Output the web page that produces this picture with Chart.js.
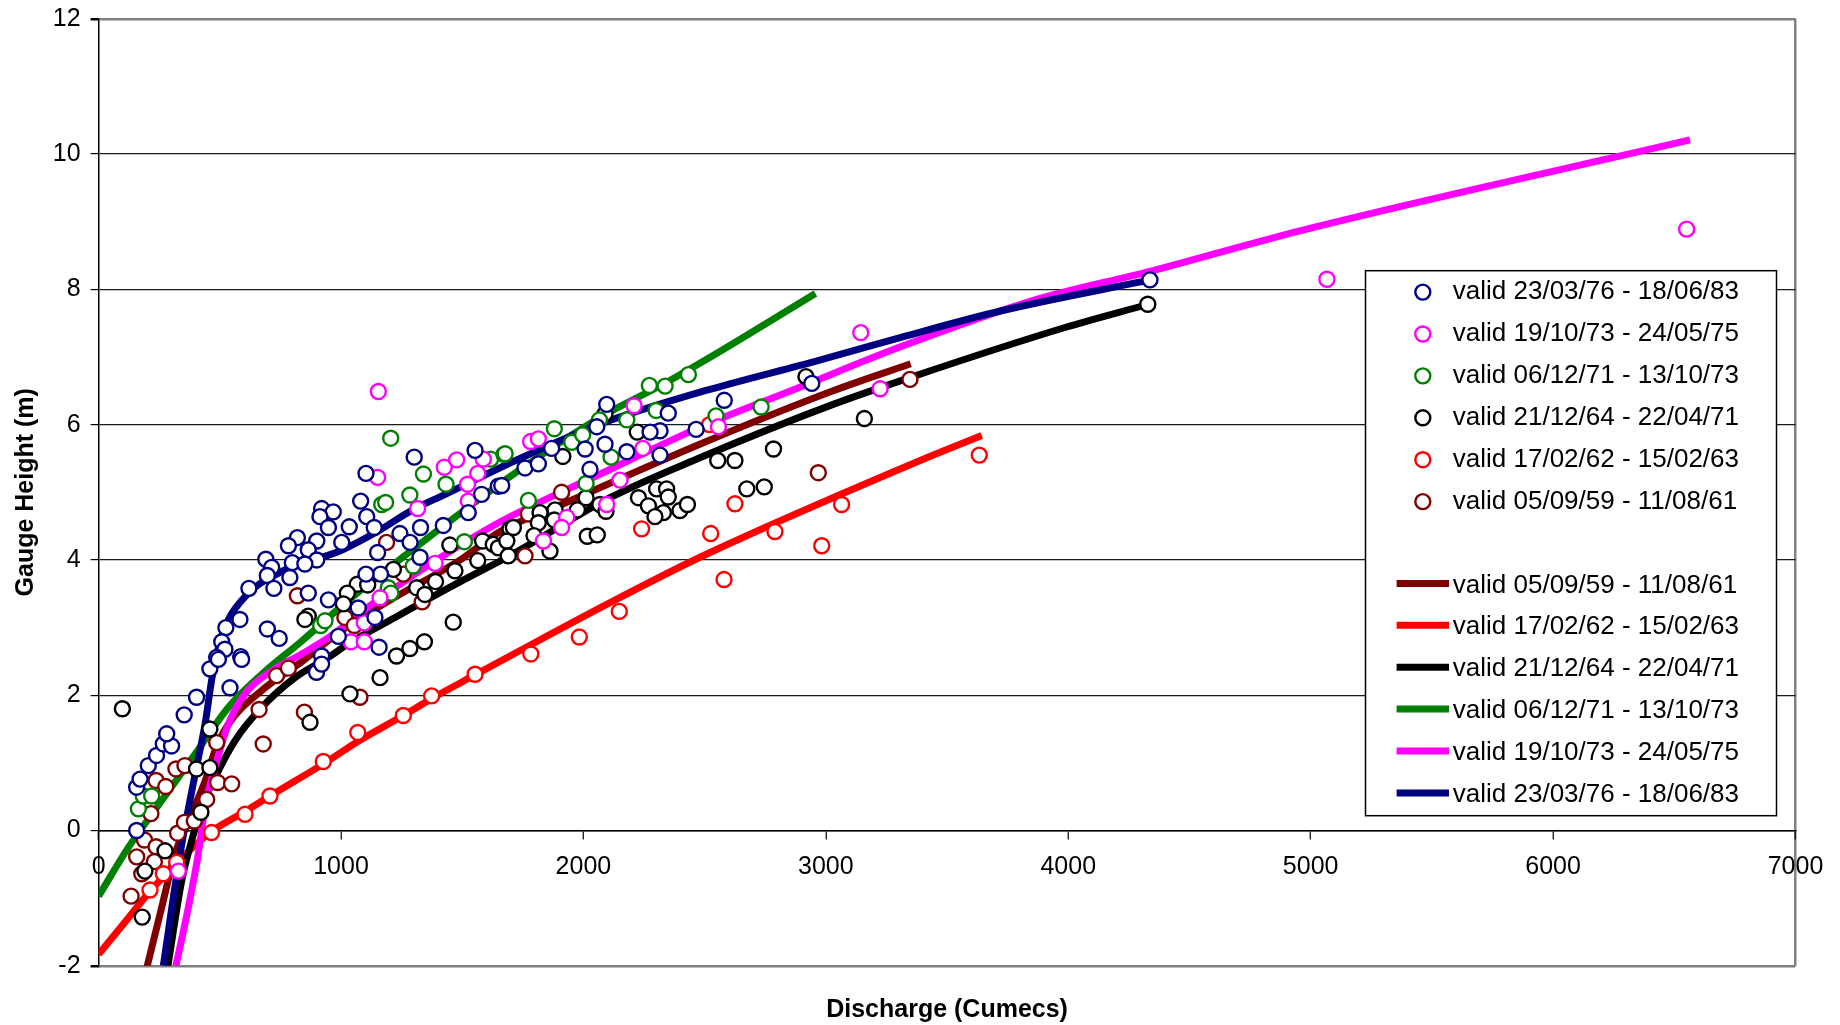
<!DOCTYPE html>
<html>
<head>
<meta charset="utf-8">
<script src="https://cdn.jsdelivr.net/npm/chart.js@4.4.1/dist/chart.umd.min.js"></script>
<style>
  html, body { margin: 0; padding: 0; background: #fff; }
  canvas { display: block; }
</style>
</head>
<body>
<canvas id="ratingChart" width="1840" height="1025"></canvas>
<script>
// rating periods (legend text)
const periods = [
  'valid 23/03/76 - 18/06/83',
  'valid 19/10/73 - 24/05/75',
  'valid 06/12/71 - 13/10/73',
  'valid 21/12/64 - 22/04/71',
  'valid 17/02/62 - 15/02/63',
  'valid 05/09/59 - 11/08/61'
];

const xTicks = [0, 1000, 2000, 3000, 4000, 5000, 6000, 7000];
const yTicks = [-2, 0, 2, 4, 6, 8, 10, 12];

// gaugings [discharge, gauge height]
const obs7683 = [
  [1103,5.28],[1302,5.52],[1553,5.62],[1649,5.09],[1580,4.97],[1422,4.51],[1328,4.48],[1243,4.39],
  [1285,4.26],[1525,4.70],[1326,4.04],[1163,3.79],[1151,4.11],[1103,3.79],[1081,4.87],[1106,4.64],
  [1137,4.48],[1034,4.49],[920,4.76],[968,4.71],[913,4.64],[948,4.48],[1003,4.26],[900,4.28],
  [820,4.33],[783,4.21],[865,4.15],[900,4.00],[799,3.96],[851,3.94],[690,4.01],[714,3.89],
  [696,3.77],[789,3.74],[723,3.58],[620,3.58],[865,3.51],[948,3.41],[1071,3.29],[1140,3.15],
  [989,2.87],[1157,2.71],[583,3.12],[525,3.00],[508,2.79],[521,2.68],[487,2.56],[586,2.57],
  [696,2.98],[745,2.84],[920,2.58],[157,0.0],[157,0.64],[171,0.76],[205,0.96],[239,1.11],
  [267,1.28],[301,1.25],[281,1.43],[353,1.71],[404,1.97],[459,2.39],[542,2.11],[590,2.53],
  [494,2.53],[899,2.34],[920,2.46],[2096,6.30],[2350,6.17],[2055,5.97],[2581,6.36],[2942,6.61],
  [2465,5.93],[2316,5.55],[2179,5.60],[2089,5.71],[2007,5.64],[1869,5.65],[1759,5.36],[1814,5.42],
  [1663,5.10],[2027,5.34],[2316,5.91],[2275,5.89],[4337,8.14]
];
const obs7375 = [
  [1154,6.49],[1151,5.22],[1316,4.76],[1426,5.37],[1477,5.48],[1564,5.28],[1587,5.49],[1522,5.12],
  [1525,4.87],[1388,3.95],[1096,3.07],[1041,2.79],[1096,2.79],[1161,3.44],[329,-0.60],[1782,5.75],
  [1814,5.79],[2209,6.28],[2245,5.65],[2151,5.18],[2557,5.97],[3224,6.53],[1931,4.63],[1910,4.48],
  [2096,4.82],[1835,4.28],[3144,7.36],[5067,8.15],[6551,8.89]
];
const obs7173 = [
  [1205,5.80],[1340,5.27],[1433,5.12],[1284,4.96],[1168,4.82],[1184,4.85],[1617,5.49],[1672,5.56],
  [1509,4.27],[1298,3.91],[1195,3.59],[1206,3.51],[916,3.03],[934,3.10],[164,0.32],[184,0.51],
  [219,0.51],[2272,6.58],[2337,6.57],[2433,6.74],[1677,5.57],[1880,5.94],[1952,5.74],[1997,5.85],
  [2066,6.07],[2179,6.07],[2300,6.21],[2547,6.13],[2733,6.26],[2114,5.52],[2011,5.13],[1773,4.88]
];
const obs6471 = [
  [1449,4.22],[1584,4.28],[1628,4.23],[1697,4.46],[1564,3.99],[1470,3.84],[1390,3.68],[1312,3.59],
  [1346,3.49],[1216,3.86],[1067,3.64],[1110,3.63],[1026,3.51],[1010,3.35],[865,3.17],[851,3.12],
  [1463,3.08],[1344,2.79],[1284,2.69],[1229,2.58],[1649,4.18],[1690,4.06],[98,1.80],[180,-1.28],
  [459,1.50],[404,0.91],[459,0.93],[422,0.27],[274,-0.30],[191,-0.60],[872,1.60],[1037,2.02],
  [1161,2.26],[2089,6.16],[2222,5.89],[2918,6.71],[3159,6.09],[2784,5.64],[2554,5.47],[2625,5.47],
  [2674,5.05],[2746,5.08],[1915,5.53],[2302,5.05],[2343,5.05],[2350,4.93],[2227,4.92],[2268,4.80],
  [2330,4.70],[2295,4.64],[2398,4.73],[2429,4.82],[2068,4.82],[2093,4.72],[1975,4.74],[2011,4.92],
  [1883,4.74],[1880,4.59],[1821,4.70],[1814,4.55],[1796,4.36],[1711,4.48],[1684,4.28],[1862,4.13],
  [2016,4.35],[2057,4.37],[4328,7.78]
];
const obs6263 = [
  [466,-0.03],[604,0.24],[707,0.51],[927,1.02],[1069,1.45],[1257,1.70],[1374,1.99],[1553,2.31],
  [322,-0.47],[267,-0.64],[212,-0.88],[1783,2.61],[1983,2.86],[2148,3.24],[2580,3.71],[2240,4.46],
  [2525,4.39],[2790,4.42],[3065,4.82],[2983,4.21],[2625,4.83],[2520,6.00],[3633,5.55]
];
const obs5961 = [
  [1188,4.26],[1257,3.79],[1335,3.38],[820,3.47],[1016,3.15],[1055,3.03],[134,-0.97],[189,-0.14],
  [157,-0.39],[237,-0.24],[230,-0.46],[178,-0.64],[216,0.25],[237,0.74],[277,0.65],[319,0.91],
  [356,0.96],[326,-0.04],[354,0.12],[395,0.14],[446,0.46],[491,0.71],[549,0.69],[487,1.30],
  [662,1.79],[679,1.28],[734,2.29],[783,2.40],[849,1.75],[1078,1.97],[3347,6.67],[2969,5.29],
  [1910,5.00],[1773,4.68],[1759,4.06]
];

// fitted rating curves [discharge, gauge height]
const curve7683 = [
  [267,-2.0],[336,-0.35],[398,0.83],[439,1.57],[470,2.3],[510,2.9],[590,3.4],[750,3.82],[1000,4.14],
  [1150,4.42],[1290,4.73],[1430,4.97],[1720,5.47],[2070,6.01],[2510,6.51],[2960,6.94],[3310,7.29],
  [3720,7.68],[4337,8.14]
];
const curve7375 = [
  [319,-2.0],[370,-1.14],[411,-0.35],[439,0.34],[480,0.93],[535,1.57],[604,2.02],[714,2.36],[838,2.61],
  [948,2.85],[1130,3.35],[1360,3.92],[1650,4.55],[2070,5.27],[2480,5.96],[2890,6.55],[3300,7.14],
  [3850,7.83],[4340,8.27],[4960,8.87],[6565,10.21]
];
const curve7173 = [
  [0,-0.97],[123,-0.25],[260,0.44],[398,1.13],[535,1.82],[673,2.31],[838,2.80],[1030,3.40],[1360,4.33],
  [1700,5.24],[2070,6.11],[2340,6.62],[2510,6.97],[2957,7.94]
];
const curve6471 = [
  [286,-2.0],[343,-0.74],[384,-0.15],[425,0.34],[480,0.78],[563,1.33],[673,1.82],[810,2.26],[948,2.56],
  [1030,2.76],[1223,3.15],[1498,3.69],[1700,4.07],[2110,4.92],[2480,5.51],[3030,6.30],[3350,6.70],
  [3990,7.44],[4330,7.78]
];
const curve6263 = [
  [0,-1.83],[110,-1.35],[212,-0.9],[322,-0.48],[420,-0.15],[480,0.02],[604,0.28],[707,0.51],[934,1.0],
  [1071,1.32],[1257,1.70],[1374,1.95],[1553,2.30],[1718,2.62],[2100,3.35],[2481,4.04],[3389,5.47],
  [3643,5.84]
];
const curve5961 = [
  [194,-2.1],[260,-1.14],[315,-0.35],[370,0.14],[439,0.73],[480,1.18],[535,1.57],[673,2.07],[840,2.5],
  [1000,2.95],[1200,3.4],[1500,4.02],[1656,4.42],[1930,4.85],[2480,5.71],[3030,6.50],[3350,6.9]
];

const colours = ['#000080', '#FF00FF', '#008000', '#000000', '#FF0000', '#800000'];
const observations = [obs7683, obs7375, obs7173, obs6471, obs6263, obs5961];
const curves = [curve7683, curve7375, curve7173, curve6471, curve6263, curve5961];

const toXY = arr => arr.map(p => ({x: p[0], y: p[1]}));

const datasets = [];
observations.forEach((obs, i) => {
  datasets.push({
    type: 'scatter',
    label: periods[i],
    data: toXY(obs),
    xAxisID: 'x', yAxisID: 'y',
    showLine: false,
    pointStyle: 'circle',
    pointRadius: 7.5,
    pointHoverRadius: 7.5,
    pointBorderWidth: 2.4,
    pointBorderColor: colours[i],
    pointBackgroundColor: '#fff'
  });
});
curves.forEach((c, i) => {
  datasets.push({
    type: 'line',
    label: periods[i],
    data: toXY(c),
    xAxisID: 'x', yAxisID: 'y',
    borderColor: colours[i],
    borderWidth: 7,
    borderCapStyle: 'butt',
    pointRadius: 0,
    fill: false,
    cubicInterpolationMode: 'monotone'
  });
});

// legend box drawn inside the plot, markers first then the curves
const markerRows = [0, 1, 2, 3, 4, 5];
const lineRows = [5, 4, 3, 2, 1, 0];
const boxLegend = {
  id: 'boxLegend',
  afterDraw(chart) {
    const ctx = chart.ctx;
    const left = 1365.5, top = 270.7, w = 411, h = 545;
    const rowH = 41.9, firstRow = 292.1;
    ctx.save();
    ctx.fillStyle = '#fff';
    ctx.fillRect(left, top, w, h);
    ctx.strokeStyle = '#000';
    ctx.lineWidth = 1.5;
    ctx.strokeRect(left, top, w, h);
    ctx.font = "26px 'Liberation Sans', Arial, sans-serif";
    ctx.textBaseline = 'middle';
    ctx.textAlign = 'left';
    markerRows.forEach((s, r) => {
      const y = firstRow + r * rowH;
      ctx.beginPath();
      ctx.arc(1422.8, y, 7.5, 0, Math.PI * 2);
      ctx.fillStyle = '#fff';
      ctx.fill();
      ctx.lineWidth = 2.4;
      ctx.strokeStyle = colours[s];
      ctx.stroke();
      ctx.fillStyle = '#000';
      ctx.fillText(periods[s], 1452.8, y);
    });
    lineRows.forEach((s, r) => {
      const y = firstRow + (r + 7) * rowH;
      ctx.beginPath();
      ctx.moveTo(1396.6, y - 2);
      ctx.lineTo(1449, y - 2);
      ctx.lineWidth = 7;
      ctx.strokeStyle = colours[s];
      ctx.stroke();
      ctx.fillStyle = '#000';
      ctx.fillText(periods[s], 1452.8, y);
    });
    ctx.restore();
  }
};

Chart.defaults.font.family = "'Liberation Sans', Arial, sans-serif";
Chart.defaults.color = '#000';

new Chart(document.getElementById('ratingChart'), {
  data: { datasets: datasets },
  options: {
    responsive: false,
    devicePixelRatio: 1,
    animation: false,
    events: [],
    layout: { padding: { left: 0, top: 18.8, right: 44.5, bottom: 0 } },
    plugins: { legend: { display: false }, tooltip: { enabled: false } },
    scales: {
      x: {
        type: 'linear',
        min: xTicks[0], max: xTicks[xTicks.length - 1],
        position: { y: 0 },
        afterBuildTicks: s => { s.ticks = xTicks.map(v => ({value: v})); },
        ticks: { color: '#000', font: { size: 25 }, padding: 14, maxRotation: 0, autoSkip: false,
                 callback: v => String(v) },
        grid: {
          display: true, drawOnChartArea: true,
          color: c => (c.tick && c.tick.value === 7000) ? '#808080' : 'rgba(0,0,0,0)',
          lineWidth: 2.5, tickColor: '#000', tickLength: 8, tickWidth: 1.2
        },
        border: { display: true, color: '#000', width: 1.5 },
        afterFit: s => { s.paddingLeft = 0; s.paddingRight = 0; }
      },
      x2: {
        type: 'linear', position: 'bottom', min: 0, max: 7000,
        ticks: { display: false },
        grid: { display: false },
        border: { display: false },
        title: { display: true, text: 'Discharge (Cumecs)', color: '#000',
                 font: { size: 25, weight: 'bold' }, padding: { top: 0, bottom: 0 } },
        afterFit: s => { s.height = 59.2; s.paddingLeft = 0; s.paddingRight = 0; }
      },
      y: {
        type: 'linear',
        min: yTicks[0], max: yTicks[yTicks.length - 1],
        afterBuildTicks: s => { s.ticks = yTicks.map(v => ({value: v})); },
        ticks: { color: '#000', font: { size: 25 }, padding: 10, callback: v => String(v) },
        grid: {
          color: c => (c.tick.value === 12 || c.tick.value === -2) ? '#808080' : '#1a1a1a',
          lineWidth: c => (c.tick.value === 12 || c.tick.value === -2) ? 2.5 : 1.2,
          tickColor: '#000', tickLength: 8
        },
        border: { color: '#000', width: 1.5 },
        title: { display: true, text: 'Gauge Height (m)', color: '#000',
                 font: { size: 25, weight: 'bold' }, padding: { top: 11, bottom: 0 } },
        afterFit: s => { s.width = 98.6; s.paddingTop = 0; s.paddingBottom = 0; }
      }
    }
  },
  plugins: [boxLegend]
});
</script>
</body>
</html>
